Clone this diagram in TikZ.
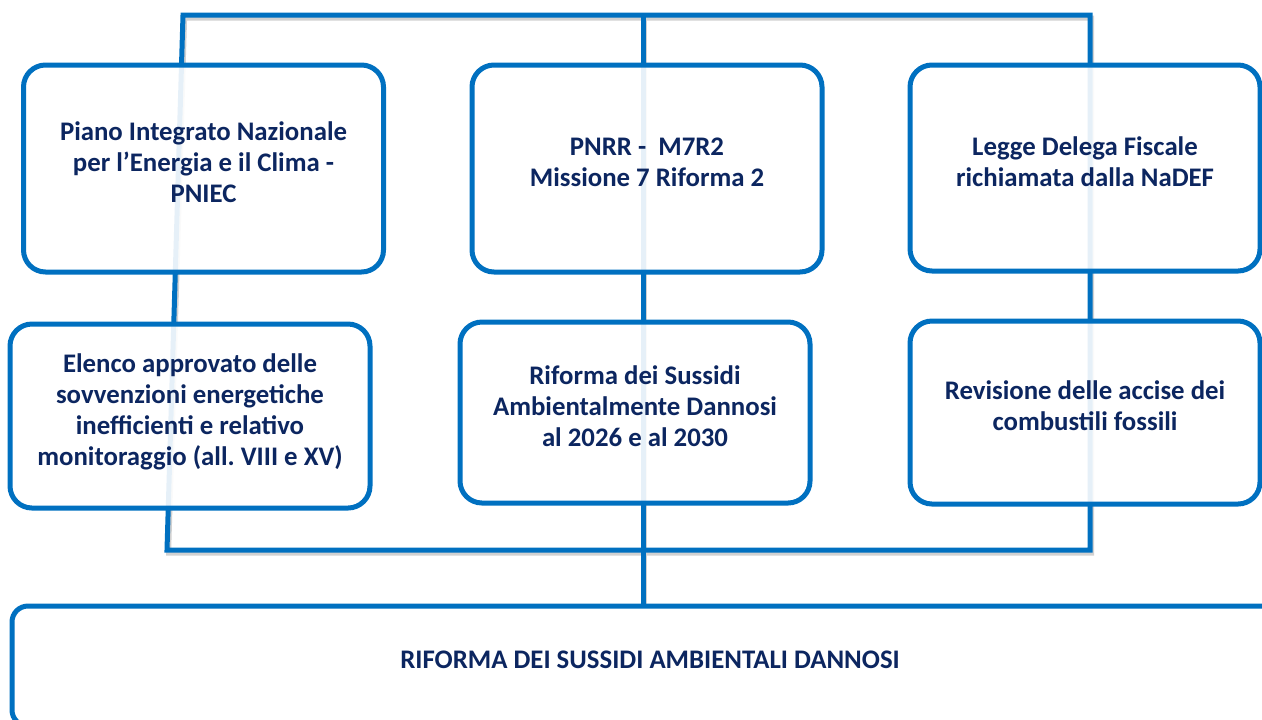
\documentclass[tikz,border=0pt]{standalone}
\usepackage{fontspec}
\setmainfont{Carlito}
\usepackage{xcolor}
\usetikzlibrary{backgrounds}
\frenchspacing
\definecolor{bordoblu}{HTML}{0070C0}
\definecolor{testoblu}{HTML}{0C2660}
\tikzset{
    casella/.style={draw=bordoblu, line width=2.5pt, rounded corners=11pt, fill=white, fill opacity=0.9, text opacity=1,
        text=testoblu, font=\bfseries\fontsize{13.4}{15.5}\selectfont, align=center, inner sep=2pt, text depth=6.5pt},
    linea/.style={draw=bordoblu, line width=2.5pt},
    ombra/.style={draw=black!18, line width=2.5pt, transform canvas={shift={(0.8pt,-1.5pt)}}}
}

\begin{document}
\begin{tikzpicture}[x=0.5pt,y=-0.5pt]
    \useasboundingbox (0,0) rectangle (1262,719);
    \clip (0,0) rectangle (1262,719);

    \node[casella, minimum width=180pt, minimum height=103.5pt] (pniec) at (203.5,168.5)
        {Piano Integrato Nazionale\\per l’Energia e il Clima -\\PNIEC};
    \node[casella, minimum width=175pt, minimum height=103.5pt] (pnrr) at (647,168.5)
        {PNRR -\ \ M7R2\\Missione 7 Riforma 2};
    \node[casella, minimum width=175pt, minimum height=103pt] (legge) at (1085,168)
        {Legge Delega Fiscale\\richiamata dalla NaDEF};
    \node[casella, minimum width=180pt, minimum height=92pt] (elenco) at (190,416)
        {Elenco approvato delle\\sovvenzioni energetiche\\inefficienti e relativo\\monitoraggio (all. VIII e XV)};
    \node[casella, minimum width=175pt, minimum height=90.5pt] (riforma) at (635,412.5)
        {Riforma dei Sussidi\\Ambientalmente Dannosi\\al 2026 e al 2030};
    \node[casella, minimum width=175pt, minimum height=91.5pt] (accise) at (1085,412.5)
        {Revisione delle accise dei\\combustili fossili};
    \node[casella, rounded corners=8pt, minimum width=638pt, minimum height=60pt] (sad) at (650,666)
        {RIFORMA DEI SUSSIDI AMBIENTALI DANNOSI};

    \coordinate (nordovest) at (183,15);
    \coordinate (nordest) at (1090,15);
    \coordinate (nordcentro) at (643,15);
    \coordinate (sudovest) at (167,550);
    \coordinate (sudest) at (1090,550);

    \begin{scope}[on background layer]
        \draw[ombra] (nordovest) -- (nordest) -- (sudest) -- (sudovest) -- cycle;
        \draw[ombra] (nordcentro) -- (nordcentro |- sad.north);
        \draw[linea] (nordovest) -- (nordest) -- (sudest) -- (sudovest) -- cycle;
        \draw[linea] (nordcentro) -- (nordcentro |- sad.north);
    \end{scope}
\end{tikzpicture}
\end{document}
